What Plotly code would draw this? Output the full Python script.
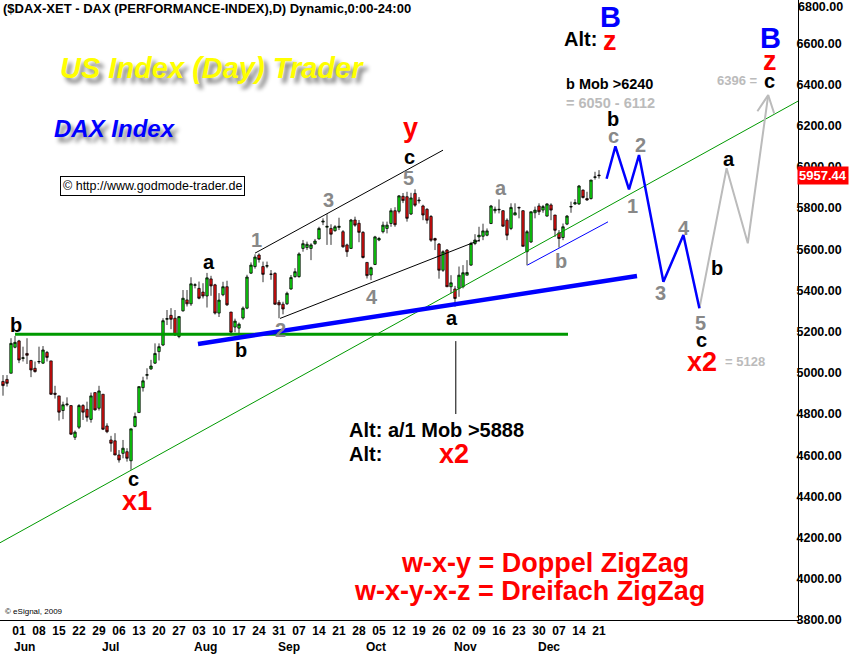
import plotly.graph_objects as go

# ---------------- data (daily DAX bars, index 0 = 26 May 2009) ----------------
opens = [4958,4968,4998,5124,5155,5070,5094,5060,5022,5053,
         5047,5099,5058,4901,4888,4817,4845,4841,4687,4736,
         4841,4823,4774,4904,4828,4896,4742,4674,4670,4601,
         4609,4617,4573,4740,4807,4928,4988,5019,5047,5103,
         5135,5260,5279,5265,5176,5301,5354,5335,5425,5410,
         5392,5373,5456,5427,5290,5379,5418,5295,5222,5217,
         5266,5314,5484,5516,5572,5516,5518,5478,5483,5342,
         5333,5335,5407,5467,5467,5604,5608,5604,5627,5650,
         5732,5707,5701,5690,5706,5685,5621,5604,5742,5726,
         5682,5536,5475,5526,5645,5685,5701,5725,5787,5784,
         5857,5855,5771,5871,5835,5810,5794,5759,5652,5625,
         5498,5596,5418,5407,5410,5418,5474,5523,5628,5660,
         5663,5668,5725,5787,5794,5787,5741,5701,5766,5803,
         5787,5588,5635,5777,5810,5790,5761,5815,5766,5679,
         5657,5722,5805,5820,5820,5887,5846,5846,5949,5960]
highs = [4989,4989,5168,5179,5160,5127,5168,5063,5055,5127,
         5130,5106,5058,4937,4888,4860,4881,4841,4720,4848,
         4848,4860,4904,4904,4937,4896,4755,4694,4707,4625,
         4674,4634,4728,4807,4933,4981,5022,5063,5143,5143,
         5265,5305,5314,5305,5276,5402,5402,5464,5435,5443,
         5435,5485,5471,5432,5387,5442,5447,5295,5263,5244,
         5322,5476,5536,5575,5580,5540,5540,5499,5488,5353,
         5345,5394,5475,5508,5585,5645,5637,5629,5650,5709,
         5750,5770,5721,5717,5753,5693,5627,5747,5758,5742,
         5688,5536,5515,5665,5660,5734,5734,5799,5804,5863,
         5873,5879,5874,5891,5853,5816,5799,5766,5656,5630,
         5595,5601,5474,5422,5516,5523,5547,5636,5673,5709,
         5724,5701,5815,5807,5842,5790,5750,5823,5823,5807,
         5790,5693,5782,5807,5823,5815,5823,5823,5766,5693,
         5725,5766,5831,5843,5912,5890,5879,5936,5976,5984]
lows = [4889,4933,4998,5119,5047,5055,5043,4979,5001,5043,
        5043,5055,4893,4875,4768,4775,4837,4699,4674,4727,
        4771,4763,4758,4817,4817,4722,4707,4617,4601,4564,
        4585,4569,4529,4736,4807,4909,4968,5014,5043,5060,
        5130,5232,5212,5179,5168,5297,5322,5325,5410,5357,
        5361,5317,5374,5283,5271,5372,5325,5181,5197,5168,
        5258,5309,5480,5506,5535,5440,5508,5452,5330,5265,
        5284,5330,5403,5462,5462,5588,5596,5547,5621,5647,
        5717,5621,5621,5685,5693,5607,5563,5601,5709,5634,
        5555,5458,5450,5523,5639,5677,5677,5709,5709,5774,
        5824,5734,5766,5806,5822,5741,5724,5636,5596,5457,
        5490,5418,5386,5321,5369,5410,5474,5519,5620,5635,
        5644,5663,5722,5774,5774,5709,5644,5693,5766,5750,
        5614,5522,5631,5750,5766,5777,5758,5741,5660,5608,
        5644,5717,5777,5815,5815,5846,5836,5841,5938,5943]
closes = [4938,4949,5143,5148,5062,5073,5085,5014,5006,5055,
          5111,5075,4896,4896,4809,4845,4848,4702,4712,4841,
          4809,4784,4888,4820,4912,4726,4714,4658,4601,4577,
          4634,4585,4728,4788,4933,4961,4991,5033,5094,5127,
          5253,5263,5260,5184,5273,5362,5335,5432,5427,5362,
          5373,5461,5422,5290,5353,5418,5330,5197,5251,5236,
          5314,5465,5523,5562,5550,5478,5520,5479,5333,5330,
          5310,5386,5463,5491,5577,5627,5624,5621,5640,5701,
          5736,5711,5673,5709,5711,5612,5588,5742,5717,5682,
          5560,5472,5510,5660,5652,5717,5717,5787,5719,5859,
          5836,5750,5849,5814,5838,5766,5741,5644,5644,5498,
          5588,5418,5437,5361,5474,5486,5487,5628,5645,5668,
          5689,5689,5810,5794,5792,5712,5668,5803,5777,5801,
          5614,5685,5782,5790,5782,5807,5820,5790,5692,5652,
          5709,5761,5807,5826,5907,5851,5839,5936,5951,5957.44]
last_price = 5957.44

# weekly date ticks (bar index of each Monday) and labels
tick_idx = [4, 9, 14, 19, 24, 29, 34, 39, 44, 49, 54, 59, 64, 69, 74,
            79, 84, 89, 94, 99, 104, 109, 114, 119, 124, 129, 134, 139, 144, 149]
day_labels = ["01","08","15","22","29","06","13","20","27","03","10","17","24","31","07",
              "14","21","28","05","12","19","26","02","09","16","23","30","07","14","21"]
month_idx = [4, 26, 49, 70, 92, 114, 135]
month_labels = ["Jun", "Jul", "Aug", "Sep", "Oct", "Nov", "Dec"]
y_ticks = [3800, 4000, 4200, 4400, 4600, 4800, 5000, 5200, 5400, 5600, 5800, 6000, 6200, 6400, 6600]

# drawn trend lines (bar index, price)
hline_x, hline_y = [3, 141.25], [5187, 5187]
blue_trend_x, blue_trend_y = [48.75, 158.5], [5140, 5470]
green_trend_x, green_trend_y = [-0.75, 198.75], [4175, 6319]
chan_up_x, chan_up_y = [63, 110], [5581, 6081]
chan_lo_x, chan_lo_y = [69.25, 119.25], [5264, 5645]
thin_blue_x, thin_blue_y = [131.1, 151.25], [5523, 5733]
vline_x, vline_y = [113.2, 113.2], [5154, 4800]
proj_blue_x = [150.9, 153.1, 156.5, 159.0, 165.1, 170.1, 174.1]
proj_blue_y = [5942, 6099, 5891, 6057, 5442, 5669, 5313]
proj_gray_x = [174.1, 180.9, 186.2, 191.3]
proj_gray_y = [5313, 5993, 5629, 6348]
arrow_x, arrow_y = [188.6, 191.3, 192.8], [6270, 6348, 6259]

FONT = "Arial, Liberation Sans, sans-serif"
PLOT_W, PLOT_H = 798, 620

fig = go.Figure()
fig.add_trace(go.Candlestick(
    x=list(range(len(opens))), open=opens, high=highs, low=lows, close=closes,
    increasing=dict(line=dict(color="black", width=0.8), fillcolor="#11ee11"),
    decreasing=dict(line=dict(color="black", width=0.8), fillcolor="#ee1111"),
    whiskerwidth=0, hoverinfo="skip", showlegend=False))


def line(xs, ys, color, width):
    fig.add_trace(go.Scatter(x=xs, y=ys, mode="lines", line=dict(color=color, width=width),
                             hoverinfo="skip", showlegend=False))


line(green_trend_x, green_trend_y, "#009900", 1)
line(chan_up_x, chan_up_y, "black", 1)
line(chan_lo_x, chan_lo_y, "black", 1)
line(vline_x, vline_y, "black", 1)
line(thin_blue_x, thin_blue_y, "#0000ff", 1)
line(hline_x, hline_y, "#009900", 3)
line(blue_trend_x, blue_trend_y, "#0000ff", 4.5)
line(proj_gray_x, proj_gray_y, "#bbbbbb", 2)
line(arrow_x, arrow_y, "#bbbbbb", 2)
line(proj_blue_x, proj_blue_y, "#0000ff", 2.5)

annotations = []


def txt(text, px, py, color="black", size=20, weight="bold", style="normal",
        xanchor="center", shadow=None, **kw):
    f = dict(family=FONT, size=size, color=color, weight=weight, style=style)
    if shadow:
        f["shadow"] = shadow
    annotations.append(dict(text=text, xref="paper", yref="paper", x=px / PLOT_W,
                            y=1 - py / PLOT_H, xanchor=xanchor, yanchor="middle",
                            showarrow=False, font=f, **kw))


GRAY = "#888888"
LGRAY = "#bbbbbb"
RED = "#ff0000"
BLUE = "#0000ff"

txt("($DAX-XET - DAX (PERFORMANCE-INDEX),D) Dynamic,0:00-24:00", 1, 8, size=13, xanchor="left")
txt("US Index (Day) Trader", 212, 68, color="#ffff00", size=29, style="italic",
    shadow="4px 5px 4px #808080")
txt("DAX Index", 115, 129, color=BLUE, size=24, style="italic", shadow="4px 5px 4px #808080")
txt("© http://www.godmode-trader.de", 152, 186, size=12.5, weight="normal",
    bordercolor="black", borderwidth=1, borderpad=2, bgcolor="white")

# wave labels
txt("b", 16, 325)
txt("c", 133, 479)
txt("x1", 137, 501, color=RED, size=27)
txt("a", 209, 262)
txt("b", 241, 350)
txt("1", 256, 240, color=GRAY)
txt("2", 280, 330, color=GRAY)
txt("3", 328, 200, color=GRAY)
txt("4", 372, 297, color=GRAY)
txt("5", 408, 178, color=GRAY)
txt("c", 409, 157)
txt("y", 410, 128, color=RED, size=27)
txt("a", 501, 188, color=GRAY)
txt("a", 452, 318)
txt("b", 561, 261, color=GRAY)
txt("b", 613, 119)
txt("c", 613, 136, color=GRAY)
txt("2", 640, 145, color=GRAY)
txt("1", 632, 206, color=GRAY)
txt("3", 660, 293, color=GRAY)
txt("4", 684, 228, color=GRAY)
txt("5", 700, 323, color=GRAY)
txt("c", 701, 340)
txt("x2", 702, 362, color=RED, size=27)
txt("= 5128", 723, 361, color=LGRAY, size=13, xanchor="left")
txt("b", 717, 268)
txt("a", 729, 159)
txt("6396 =", 760, 81, color=LGRAY, size=13, xanchor="right")
txt("c", 769, 81)
txt("z", 770, 61, color=RED, size=27)
txt("B", 770, 38, color=BLUE, size=29)
txt("B", 610, 17, color=BLUE, size=29)
txt("Alt:", 580, 39, size=20)
txt("z", 610, 41, color=RED, size=27)
txt("b Mob >6240", 564, 84, size=14.5, xanchor="left")
txt("= 6050 - 6112", 564, 103, color=LGRAY, size=14.5, xanchor="left")
txt("Alt: a/1 Mob >5888", 347, 430, size=20, xanchor="left")
txt("Alt:", 347, 454, size=20, xanchor="left")
txt("x2", 454, 454, color=RED, size=27)
txt("w-x-y = Doppel ZigZag", 545, 563, color=RED, size=27)
txt("w-x-y-x-z = Dreifach ZigZag", 529, 591, color=RED, size=27)
txt("© eSignal, 2009", 3, 611, size=8, weight="normal", xanchor="left")

# top y-axis label (pushed down to stay inside the picture)
txt("6800.00", 796, 7.5, size=12.5, xanchor="left")
# last price marker on the axis
annotations.append(dict(text="5957.44", xref="paper", yref="y", x=797 / PLOT_W, y=last_price,
                        xanchor="left", yanchor="middle", showarrow=False, bgcolor="#ff0000",
                        borderpad=1, font=dict(family=FONT, size=13, color="white", weight="bold")))
# month names under the day numbers
for mi, ml in zip(month_idx, month_labels):
    annotations.append(dict(text=ml, xref="x", yref="paper", x=mi, y=1 - 647 / PLOT_H,
                            xanchor="left", yanchor="middle", xshift=-7, showarrow=False,
                            font=dict(family=FONT, size=12, color="black", weight="bold")))

fig.update_layout(
    width=851, height=654,
    margin=dict(l=0, r=53, t=0, b=34),
    paper_bgcolor="white", plot_bgcolor="white",
    showlegend=False, boxgap=0.15,
    annotations=annotations,
    xaxis=dict(range=[-0.75, 198.75], rangeslider=dict(visible=False), showgrid=False,
               zeroline=False, tickvals=tick_idx, ticktext=day_labels, ticks="", ticklen=0,
               showline=True, linecolor="black", linewidth=1,
               tickfont=dict(family=FONT, size=12, color="black", weight="bold")),
    yaxis=dict(range=[3800, 6810], side="right", showgrid=False, zeroline=False,
               tickvals=y_ticks, ticktext=["%.2f" % v for v in y_ticks], ticks="", ticklen=0,
               ticklabelstandoff=-5,
               showline=True, linecolor="black", linewidth=1,
               tickfont=dict(family=FONT, size=12.5, color="black", weight="bold")),
)

# remove the browser's default page margin so the chart sits at the window's corner
fig.write_html("out.html", config={"displayModeBar": False, "staticPlot": True},
               post_script="document.body.style.margin='0px';")
